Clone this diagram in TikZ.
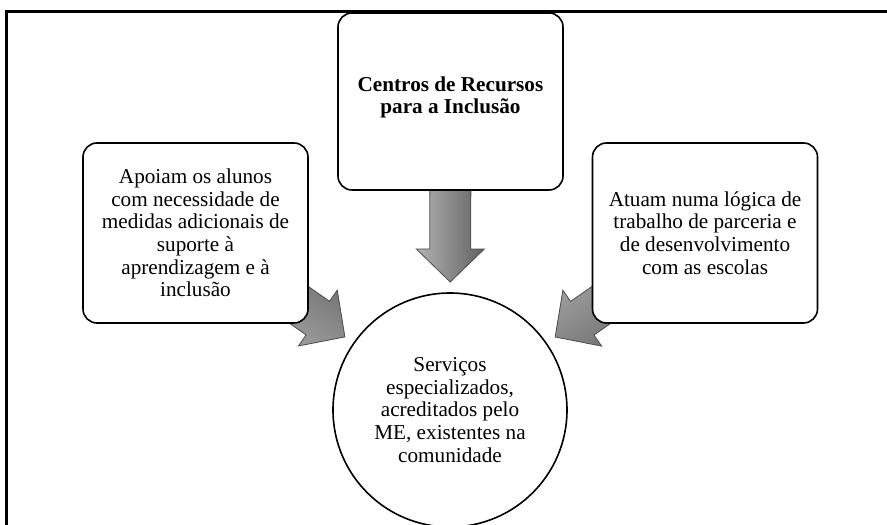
\documentclass[tikz,border=0pt]{standalone}
\usepackage{fontspec}
\setmainfont{Liberation Serif}
\usetikzlibrary{calc,backgrounds}
\def\shaftw{20.5}
\def\headw{34}
\def\headl{33}
\newcommand{\boxfont}{\fontsize{21.2}{22.6}\selectfont\lineskiplimit=-100pt\relax}

% broad shaded arrow from #1 to #2
\newcommand{\fatarrow}[2]{%
    \pgfmathanglebetweenpoints{\pgfpointanchor{#1}{center}}{\pgfpointanchor{#2}{center}}%
    \edef\arrang{\pgfmathresult}%
    \shade[big arrow, shading angle=\arrang]
        let \p1=($(#2)-(#1)$), \n1={veclen(\x1,\y1)} in
        [shift={(#1)}, rotate=\arrang]
        (0,-\shaftw) -- (\n1-\headl,-\shaftw) -- (\n1-\headl,-\headw) -- (\n1,0)
        -- (\n1-\headl,\headw) -- (\n1-\headl,\shaftw) -- (0,\shaftw) -- cycle;
}

\begin{document}
\begin{tikzpicture}[x=1pt,y=1pt]
    \tikzstyle{infobox}=[draw,line width=1.6pt,fill=white,rounded corners=14pt,
        minimum width=225pt,minimum height=180pt,inner sep=0pt,align=center,
        font=\boxfont]
    \tikzstyle{hub}=[infobox,circle,rounded corners=0pt,minimum size=234pt]
    \tikzstyle{big arrow}=[draw=black!70,line width=0.8pt,
        top color=black!62,bottom color=black!30]

    \clip (0,0) rectangle (887,525);
    \draw[line width=3pt] (6.5,-20) rectangle (900,513.5);

    % the three boxes and the circle
    \node[infobox,minimum height=177pt,text depth=13pt] (cent) at (450.5,423.5)
        {\textbf{Centros de Recursos}\\\textbf{para a Inclus\~ao}};
    \node[infobox] (apoio) at (195.5,292)
        {Apoiam os alunos\\com necessidade de\\medidas adicionais de\\suporte \`a\\aprendizagem e \`a\\inclus\~ao};
    \node[infobox] (atuam) at (705,292)
        {Atuam numa l\'ogica de\\trabalho de parceria e\\de desenvolvimento\\com as escolas};
    \node[hub] (serv) at (450,115)
        {Servi\c{c}os\\especializados,\\acreditados pelo\\ME, existentes na\\comunidade};

    % arrows run behind the boxes and stop short of the circle
    \begin{pgfonlayer}{background}
        \foreach \src in {cent,apoio,atuam} {
            \coordinate (tip-\src) at ($(serv)!128pt!(\src)$);
            \fatarrow{\src}{tip-\src}
        }
    \end{pgfonlayer}
\end{tikzpicture}
\end{document}
